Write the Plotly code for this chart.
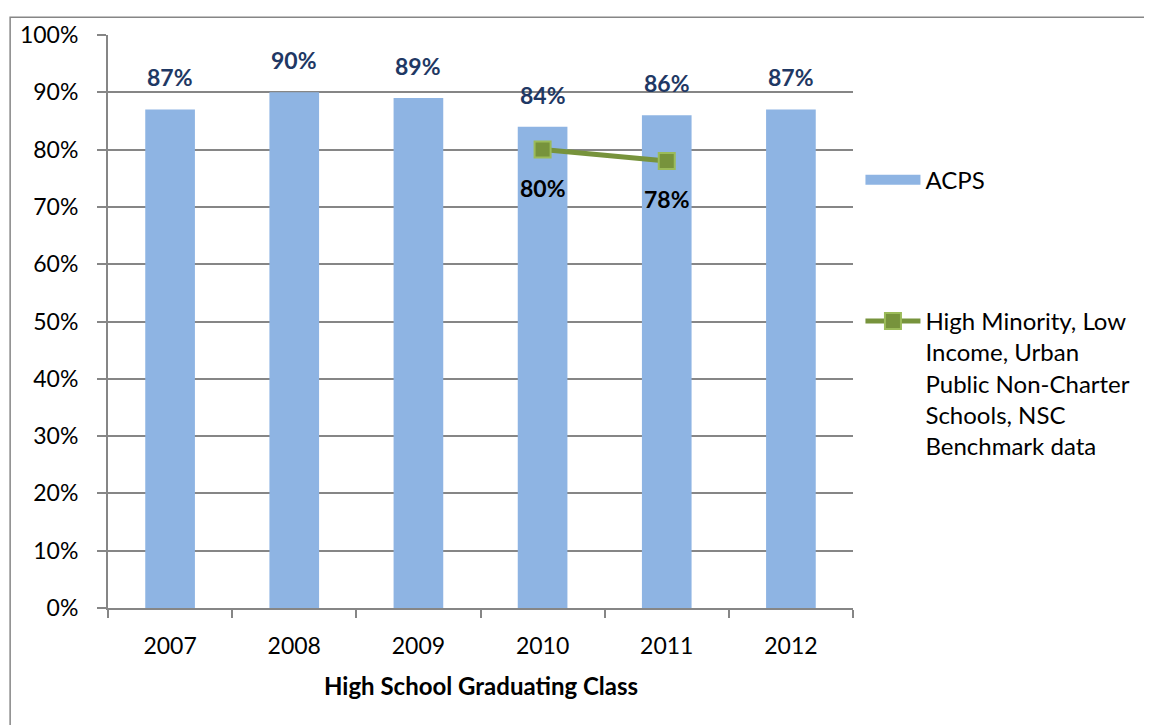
import plotly.graph_objects as go

years = ["2007", "2008", "2009", "2010", "2011", "2012"]
acps = [0.87, 0.90, 0.89, 0.84, 0.86, 0.87]
bench_years = ["2010", "2011"]
bench = [0.80, 0.78]

FONT = "Lato, 'Open Sans', sans-serif"
COLORS = {
    "bar": "rgb(142, 180, 227)",
    "line": "rgb(119, 147, 60)",
    "marker_edge": "rgb(155, 187, 89)",
    "label_blue": "rgb(31, 56, 100)",
    "grid": "rgb(134, 134, 134)",
}
BENCH_NAME = "High Minority, Low<br>Income, Urban<br>Public Non-Charter<br>Schools, NSC<br>Benchmark data"

fig = go.Figure()
fig.add_trace(
    go.Bar(
        x=years,
        y=acps,
        name="ACPS",
        showlegend=False,
        marker={"color": COLORS["bar"], "line": {"width": 0}},
    )
)
# legend swatch for the bars (wide flat rectangle, as in the original)
fig.add_trace(
    go.Scatter(
        x=[None],
        y=[None],
        name="ACPS",
        legendgroup="acps",
        mode="lines",
        line={"color": COLORS["bar"], "width": 15},
    )
)
fig.add_trace(
    go.Scatter(
        x=bench_years,
        y=bench,
        name=BENCH_NAME,
        legendgroup="bench",
        mode="lines+markers",
        line={"color": COLORS["line"], "width": 5},
        marker={
            "symbol": "square",
            "size": 16,
            "color": COLORS["line"],
            "line": {"color": COLORS["marker_edge"], "width": 2},
        },
    )
)

annotations = []
for year, value in zip(years, acps):
    annotations.append(
        dict(
            x=years.index(year),
            y=value,
            text=f"<b>{value:.0%}</b>",
            showarrow=False,
            yshift=32,
            font={"family": FONT, "size": 23, "color": COLORS["label_blue"]},
        )
    )
for year, value in zip(bench_years, bench):
    annotations.append(
        dict(
            x=years.index(year),
            y=value,
            text=f"<b>{value:.0%}</b>",
            showarrow=False,
            yshift=-38,
            font={"family": FONT, "size": 23, "color": "black"},
        )
    )
annotations.append(
    dict(
        xref="paper",
        yref="paper",
        x=0.5,
        y=-0.135,
        yanchor="middle",
        text="<b>High School Graduating Class</b>",
        showarrow=False,
        font={"family": FONT, "size": 24, "color": "black"},
    )
)

fig.update_layout(
    width=1144,
    height=717,
    margin={"l": 99, "r": 299, "t": 19, "b": 117},
    paper_bgcolor="white",
    plot_bgcolor="white",
    font={"family": FONT, "size": 23, "color": "black"},
    bargap=0.6,
    showlegend=True,
    legend={
        "x": 1.01,
        "y": 0.786,
        "xanchor": "left",
        "yanchor": "top",
        "valign": "top",
        "traceorder": "grouped",
        "tracegroupgap": 107,
        "itemwidth": 55,
        "font": {"family": FONT, "size": 24, "color": "black"},
        "bgcolor": "rgba(0,0,0,0)",
    },
    annotations=annotations,
    xaxis={
        "type": "category",
        "categoryorder": "array",
        "categoryarray": years,
        "range": [-0.5, len(years) - 0.5],
        "showline": True,
        "linecolor": COLORS["grid"],
        "linewidth": 2,
        "ticks": "outside",
        "tickson": "boundaries",
        "ticklen": 8,
        "tickwidth": 2,
        "tickcolor": COLORS["grid"],
        "tickangle": 0,
        "showgrid": False,
        "ticklabelstandoff": 16,
    },
    yaxis={
        "range": [0, 1],
        "dtick": 0.1,
        "tickformat": ".0%",
        "showline": True,
        "linecolor": COLORS["grid"],
        "linewidth": 2,
        "ticks": "outside",
        "ticklen": 9,
        "tickwidth": 2,
        "tickcolor": COLORS["grid"],
        "showgrid": True,
        "gridcolor": COLORS["grid"],
        "gridwidth": 1.5,
        "zeroline": False,
        "ticklabelstandoff": 14,
    },
    shapes=[
        dict(
            type="rect",
            xref="paper",
            yref="paper",
            x0=-98 / 746,
            x1=1.45,
            y0=-0.25,
            y1=1 + 18 / 581,
            line={"color": "rgb(134, 134, 134)", "width": 1.5},
            layer="below",
        )
    ],
)

fig.write_html("out.html")
